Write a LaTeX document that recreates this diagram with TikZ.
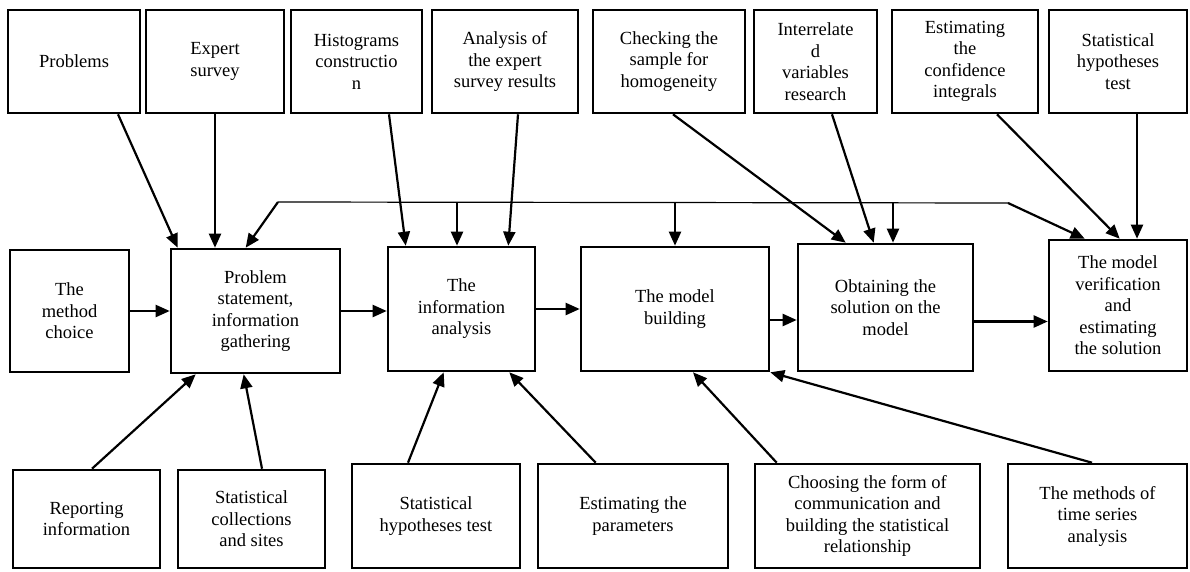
\documentclass[tikz,border=0pt]{standalone}
\usepackage{fontspec}
\setmainfont{Liberation Serif}
\usetikzlibrary{
    arrows.meta,
    positioning
}

\begin{document}
\begin{tikzpicture}[
    x=1pt, y=-1pt,
    every node/.style={font=\fontsize{18.5}{21.5}\selectfont},
    box/.style={draw, line width=2.6pt, align=center, inner sep=2pt},
    arrow/.style={-{Triangle[length=14pt, width=12pt]}, line width=2.2pt},
    link/.style={line width=1.2pt}
]
    \useasboundingbox (0,0) rectangle (1190,572);

    % Top row: tools feeding the stages
    \node[box, minimum width=132pt, minimum height=103pt] (problems) at (74,61.5) {Problems};
    \node[box, minimum width=138pt, minimum height=103pt] (expert) at (215,61.5) {Expert\\survey};
    \node[box, minimum width=131pt, minimum height=103pt] (histo) at (356.5,61.5) {Histograms\\constructio\\n};
    \node[box, minimum width=146pt, minimum height=103pt] (analysis) at (505,61.5) {Analysis of\\the expert\\survey results};
    \node[box, minimum width=152pt, minimum height=103pt] (checking) at (669,61.5) {Checking the\\sample for\\homogeneity};
    \node[box, minimum width=123pt, minimum height=103pt] (interrel) at (815.5,61.5) {Interrelate\\d\\variables\\research};
    \node[box, minimum width=146pt, minimum height=103pt] (confid) at (965,61.5) {Estimating\\the\\confidence\\integrals};
    \node[box, minimum width=138pt, minimum height=103pt] (stathyp) at (1118,61.5) {Statistical\\hypotheses\\test};

    % Middle row: the stages
    \node[box, minimum width=119pt, minimum height=122pt] (mc) at (69.5,311) {The\\method\\choice};
    \node[box, minimum width=169pt, minimum height=124pt] (ps) at (255.5,311) {Problem\\statement,\\information\\gathering};
    \node[box, minimum width=147pt, minimum height=124pt] (ia) at (461.5,309) {The\\information\\analysis};
    \node[box, minimum width=188pt, minimum height=124pt] (mb) at (675,309) {The model\\building};
    \node[box, minimum width=175pt, minimum height=127pt] (ob) at (885.5,307.5) {Obtaining the\\solution on the\\model};
    \node[box, minimum width=138pt, minimum height=131pt] (ver) at (1118,305.5) {The model\\verification\\and\\estimating\\the solution};

    % Bottom row: sources and methods
    \node[box, minimum width=147pt, minimum height=98pt] (rep) at (86.5,519) {Reporting\\information};
    \node[box, minimum width=147pt, minimum height=98pt] (coll) at (251.5,519) {Statistical\\collections\\and sites};
    \node[box, minimum width=168pt, minimum height=104pt] (sht) at (436,516) {Statistical\\hypotheses test};
    \node[box, minimum width=190pt, minimum height=104pt] (par) at (633,516) {Estimating the\\parameters};
    \node[box, minimum width=225pt, minimum height=104pt] (cho) at (867.5,516) {Choosing the form of\\communication and\\building the statistical\\relationship};
    \node[box, minimum width=179pt, minimum height=104pt] (tsa) at (1097.5,516) {The methods of\\time series\\analysis};

    % Arrows from the top row
    \draw[arrow] ([xshift=44pt]problems.south) -- ([xshift=8pt]ps.north west);
    \draw[arrow] (expert.south) -- (expert.south |- ps.north);
    \draw[arrow] ([xshift=32.5pt]histo.south) -- ([xshift=19pt]ia.north west);
    \draw[arrow] ([xshift=13pt]analysis.south) -- ([xshift=-28pt]ia.north east);
    \draw[arrow] ([xshift=4pt]checking.south) -- ([xshift=49pt]ob.north west);
    \draw[arrow] ([xshift=16.5pt]interrel.south) -- ([xshift=77pt]ob.north west);
    \draw[arrow] ([xshift=32pt]confid.south) -- ([xshift=72pt]ver.north west);
    \coordinate (sh) at ([xshift=19pt]stathyp.south);
    \draw[arrow] (sh) -- (sh |- ver.north);

    % Feedback line
    \coordinate (fbl) at (278,202);
    \coordinate (fbr) at (1008,203);
    \draw[link] (fbl) -- (fbr);
    \draw[arrow] (fbl) -- ([xshift=76pt]ps.north west);
    \draw[arrow] (fbr) -- ([xshift=37pt]ver.north west);
    \coordinate (dia) at ([xshift=-4.5pt]ia.north);
    \draw[arrow] (dia |- fbl) -- (dia);
    \draw[arrow] (mb.north |- fbl) -- (mb.north);
    \coordinate (dob) at ([xshift=7.5pt]ob.north);
    \draw[arrow] (dob |- fbl) -- (dob);

    % Main chain
    \draw[arrow] (mc.east) -- (mc.east -| ps.west);
    \draw[arrow] (ps.east) -- (ps.east -| ia.west);
    \draw[arrow] (ia.east) -- (ia.east -| mb.west);
    \coordinate (m1) at ([yshift=-11pt]mb.east);
    \draw[arrow] (m1) -- (m1 -| ob.west);
    \coordinate (o1) at ([yshift=-14pt]ob.east);
    \draw[arrow] (o1) -- (o1 -| ver.west);

    % Arrows from the bottom row
    \draw[arrow] ([xshift=5.5pt]rep.north) -- ([xshift=26pt]ps.south west);
    \draw[arrow] ([xshift=10.5pt]coll.north) -- ([xshift=74pt]ps.south west);
    \draw[arrow] ([xshift=-28pt]sht.north) -- ([xshift=57pt]ia.south west);
    \draw[arrow] ([xshift=59pt]par.north west) -- ([xshift=-27pt]ia.south east);
    \draw[arrow] ([xshift=23pt]cho.north west) -- ([xshift=18pt]mb.south);
    \draw[arrow] ([xshift=-5.5pt]tsa.north) -- (mb.south east);

\end{tikzpicture}
\end{document}
